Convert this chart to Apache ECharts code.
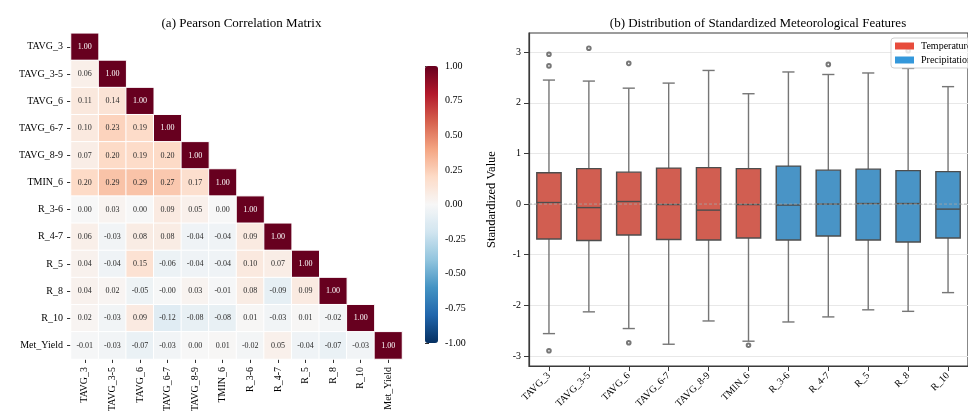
<!DOCTYPE html>
<html><head><meta charset="utf-8">
<script src="https://cdn.jsdelivr.net/npm/echarts@6/dist/echarts.min.js"></script>
<style>html,body{margin:0;padding:0;background:#fff}#c{width:968px;height:414px}</style>
</head><body><div id="c"></div>
<script>
// ---------- Data ----------
const corrLabels = ['TAVG_3','TAVG_3-5','TAVG_6','TAVG_6-7','TAVG_8-9','TMIN_6','R_3-6','R_4-7','R_5','R_8','R_10','Met_Yield'];
const corrRows = [
  [1.00],
  [0.06, 1.00],
  [0.11, 0.14, 1.00],
  [0.10, 0.23, 0.19, 1.00],
  [0.07, 0.20, 0.19, 0.20, 1.00],
  [0.20, 0.29, 0.29, 0.27, 0.17, 1.00],
  [0.00, 0.03, 0.00, 0.09, 0.05, 0.00, 1.00],
  [0.06, -0.03, 0.08, 0.08, -0.04, -0.04, 0.09, 1.00],
  [0.04, -0.04, 0.15, -0.06, -0.04, -0.04, 0.10, 0.07, 1.00],
  [0.04, 0.02, -0.05, -0.004, 0.03, -0.01, 0.08, -0.09, 0.09, 1.00],
  [0.02, -0.03, 0.09, -0.12, -0.08, -0.08, 0.01, -0.03, 0.01, -0.02, 1.00],
  [-0.01, -0.03, -0.07, -0.03, 0.00, 0.01, -0.02, 0.05, -0.04, -0.07, -0.03, 1.00]
];
const colorbarMin = -1, colorbarMax = 1, colorbarStep = 0.25;

const boxCategories = ['TAVG_3','TAVG_3-5','TAVG_6','TAVG_6-7','TAVG_8-9','TMIN_6','R_3-6','R_4-7','R_5','R_8','R_10'];
const boxGroups = ['Temperature','Temperature','Temperature','Temperature','Temperature','Temperature','Precipitation','Precipitation','Precipitation','Precipitation','Precipitation'];
const boxLowerWhisker = [-2.56, -2.13, -2.46, -2.77, -2.31, -2.71, -2.33, -2.23, -2.09, -2.12, -1.75];
const boxQ1           = [-0.69, -0.72, -0.61, -0.70, -0.71, -0.67, -0.71, -0.63, -0.71, -0.75, -0.67];
const boxMedian       = [0.03, -0.07, 0.05, -0.01, -0.12, -0.01, -0.02, 0.00, 0.01, 0.01, -0.10];
const boxQ3           = [0.62, 0.70, 0.63, 0.71, 0.72, 0.70, 0.75, 0.67, 0.69, 0.66, 0.64];
const boxUpperWhisker = [2.45, 2.43, 2.29, 2.39, 2.64, 2.18, 2.61, 2.56, 2.59, 2.68, 2.32];
const outlierCategory = ['TAVG_3','TAVG_3','TAVG_3','TAVG_3-5','TAVG_6','TAVG_6','TMIN_6','R_4-7','R_8'];
const outlierValue    = [2.96, 2.73, -2.90, 3.08, 2.78, -2.74, -2.79, 2.76, 3.03];
const boxYTicks = [-3, -2, -1, 0, 1, 2, 3];
const referenceLineValue = [0];

// ---------- Build ----------
const FONT = "'Liberation Serif','DejaVu Serif',serif";
const heatData = [];
corrRows.forEach((row, i) => row.forEach((v, j) => {
  heatData.push({ value: [j, i, v], label: { color: Math.abs(v) > 0.5 ? '#ffffff' : '#2b2b2b' } });
}));

const groupFill = { Temperature: '#d15e51', Precipitation: '#4994c6' };
const groupColor = { Temperature: '#e74c3c', Precipitation: '#3498db' };
function boxData(group) {
  const out = [];
  boxCategories.forEach((c, i) => {
    if (boxGroups[i] === group) out.push([i, boxLowerWhisker[i], boxQ1[i], boxMedian[i], boxQ3[i], boxUpperWhisker[i]]);
  });
  return out;
}
function renderBox(fill) {
  return function (params, api) {
    const x = api.value(0);
    const lo = api.coord([x, api.value(1)]);
    const q1 = api.coord([x, api.value(2)]);
    const md = api.coord([x, api.value(3)]);
    const q3 = api.coord([x, api.value(4)]);
    const hi = api.coord([x, api.value(5)]);
    const bw = api.size([1, 0])[0] * 0.61;
    const cx = lo[0];
    const cap = bw / 4;
    const edge = '#4d4d4d', wc = '#767676', lw = 1.4;
    return { type: 'group', children: [
      { type: 'line', shape: { x1: cx, y1: q3[1], x2: cx, y2: hi[1] }, style: { stroke: wc, lineWidth: lw } },
      { type: 'line', shape: { x1: cx, y1: q1[1], x2: cx, y2: lo[1] }, style: { stroke: wc, lineWidth: lw } },
      { type: 'line', shape: { x1: cx - cap, y1: hi[1], x2: cx + cap, y2: hi[1] }, style: { stroke: wc, lineWidth: lw } },
      { type: 'line', shape: { x1: cx - cap, y1: lo[1], x2: cx + cap, y2: lo[1] }, style: { stroke: wc, lineWidth: lw } },
      { type: 'rect', shape: { x: cx - bw / 2, y: q3[1], width: bw, height: q1[1] - q3[1] }, style: { fill: fill, stroke: edge, lineWidth: lw } },
      { type: 'line', shape: { x1: cx - bw / 2, y1: md[1], x2: cx + bw / 2, y2: md[1] }, style: { stroke: edge, lineWidth: lw } }
    ]};
  };
}
function renderRefLine(params, api) {
  const y = api.coord([0, api.value(0)])[1];
  const cs = params.coordSys;
  return { type: 'line', shape: { x1: cs.x, y1: y, x2: cs.x + cs.width, y2: y },
    style: { stroke: '#a8a8a8', lineWidth: 1, lineDash: [3, 2], opacity: 0.8 } };
}
const outlierData = outlierCategory.map((c, k) => [boxCategories.indexOf(c), outlierValue[k]]);

const chart = echarts.init(document.getElementById('c'), null, { renderer: 'canvas' });
chart.setOption({
  animation: false,
  backgroundColor: '#ffffff',
  textStyle: { fontFamily: FONT },
  title: [
    { text: '(a) Pearson Correlation Matrix', left: 236.5, top: 12, textAlign: 'center',
      textStyle: { fontFamily: FONT, fontSize: 13, fontWeight: 'normal', color: '#000' } },
    { text: '(b) Distribution of Standardized Meteorological Features', left: 753, top: 12, textAlign: 'center',
      textStyle: { fontFamily: FONT, fontSize: 13, fontWeight: 'normal', color: '#000' } }
  ],
  legend: {
    orient: 'vertical', left: 891, top: 38, padding: [3, 4, 3, 4], itemGap: 4, z: 10,
    itemWidth: 19, itemHeight: 7, icon: 'rect',
    backgroundColor: 'rgba(255,255,255,0.8)', borderColor: '#d0d0d0', borderWidth: 1, borderRadius: 3,
    textStyle: { fontFamily: FONT, fontSize: 10, color: '#000', padding: [0, 0, 0, 2] },
    data: [
      { name: 'Temperature', itemStyle: { color: groupColor.Temperature } },
      { name: 'Precipitation', itemStyle: { color: groupColor.Precipitation } }
    ]
  },
  visualMap: {
    type: 'continuous', min: colorbarMin, max: colorbarMax, seriesIndex: 0, dimension: 2,
    left: 425, top: 66, itemWidth: 13, itemHeight: 277, padding: 0,
    calculable: false, hoverLink: false, showLabel: false, text: null,
    inRange: { color: ['#053061','#2166ac','#4393c3','#92c5de','#d1e5f0','#f7f7f7','#fddbc7','#f4a582','#d6604d','#b2182b','#67001f'] }
  },
  grid: [
    { left: 71, top: 33.3, width: 331, height: 332.4 },
    { left: 529, top: 33, width: 448, height: 333, show: true, borderColor: '#3a3a3a', borderWidth: 1.2, backgroundColor: 'transparent' },
    { left: 425, top: 66, width: 13, height: 277 }
  ],
  xAxis: [
    { type: 'category', gridIndex: 0, data: corrLabels, position: 'bottom',
      axisLine: { show: false }, splitLine: { show: false },
      axisTick: { show: true, alignWithLabel: true, length: 4, lineStyle: { color: '#333' } },
      axisLabel: { rotate: 90, margin: 8, fontSize: 10, color: '#000', fontFamily: FONT, interval: 0 } },
    { type: 'category', gridIndex: 1, data: boxCategories, position: 'bottom',
      axisLine: { show: true, onZero: false, lineStyle: { color: '#3a3a3a', width: 1.2 } },
      axisTick: { show: true, alignWithLabel: true, length: 5, lineStyle: { color: '#3a3a3a' } },
      axisLabel: { rotate: 45, margin: 8, fontSize: 10, color: '#000', fontFamily: FONT, interval: 0 },
      splitLine: { show: false } },
    { type: 'value', gridIndex: 2, show: false, min: 0, max: 1 }
  ],
  yAxis: [
    { type: 'category', gridIndex: 0, data: corrLabels, inverse: true,
      axisLine: { show: false }, splitLine: { show: false },
      axisTick: { show: true, alignWithLabel: true, length: 4, lineStyle: { color: '#333' } },
      axisLabel: { margin: 8, fontSize: 10, color: '#000', fontFamily: FONT, interval: 0 } },
    { type: 'value', gridIndex: 1, min: -3.2, max: 3.38, splitNumber: 6,
      name: 'Standardized Value', nameLocation: 'middle', nameGap: 31,
      nameTextStyle: { fontFamily: FONT, fontSize: 12.5, color: '#000' },
      axisLine: { show: true, onZero: false, lineStyle: { color: '#3a3a3a', width: 1.2 } },
      axisTick: { show: true, length: 5, customValues: boxYTicks, lineStyle: { color: '#3a3a3a' } },
      axisLabel: { margin: 8, fontSize: 10, color: '#000', fontFamily: FONT, customValues: boxYTicks },
      splitLine: { show: true, lineStyle: { color: '#e8e8e8', width: 1 } } },
    { type: 'value', gridIndex: 2, position: 'right', min: colorbarMin, max: colorbarMax, interval: colorbarStep,
      axisLine: { show: false }, splitLine: { show: false },
      axisTick: { show: true, length: 4, lineStyle: { color: '#333' } },
      axisLabel: { margin: 7, fontSize: 10, color: '#000', fontFamily: FONT, formatter: v => v.toFixed(2) } }
  ],
  series: [
    { type: 'heatmap', xAxisIndex: 0, yAxisIndex: 0, data: heatData,
      itemStyle: { borderColor: '#ffffff', borderWidth: 1 },
      label: { show: true, fontSize: 8, fontFamily: FONT, formatter: p => p.value[2].toFixed(2) },
      emphasis: { disabled: true } },
    { type: 'custom', name: 'Temperature', xAxisIndex: 1, yAxisIndex: 1, data: boxData('Temperature'),
      itemStyle: { color: groupColor.Temperature }, renderItem: renderBox(groupFill.Temperature), silent: true },
    { type: 'custom', name: 'Precipitation', xAxisIndex: 1, yAxisIndex: 1, data: boxData('Precipitation'),
      itemStyle: { color: groupColor.Precipitation }, renderItem: renderBox(groupFill.Precipitation), silent: true },
    { type: 'custom', name: 'zeroLine', xAxisIndex: 1, yAxisIndex: 1, encode: { y: 0 },
      data: referenceLineValue.map(v => [v]), renderItem: renderRefLine, silent: true, z: 3 },
    { type: 'scatter', name: 'outliers', xAxisIndex: 1, yAxisIndex: 1, data: outlierData,
      symbol: 'emptyCircle', symbolSize: 3.6, itemStyle: { color: '#555555', borderWidth: 1.1 }, silent: true, z: 3 },
    { type: 'scatter', xAxisIndex: 2, yAxisIndex: 2, data: [] }
  ]
});
</script></body></html>
